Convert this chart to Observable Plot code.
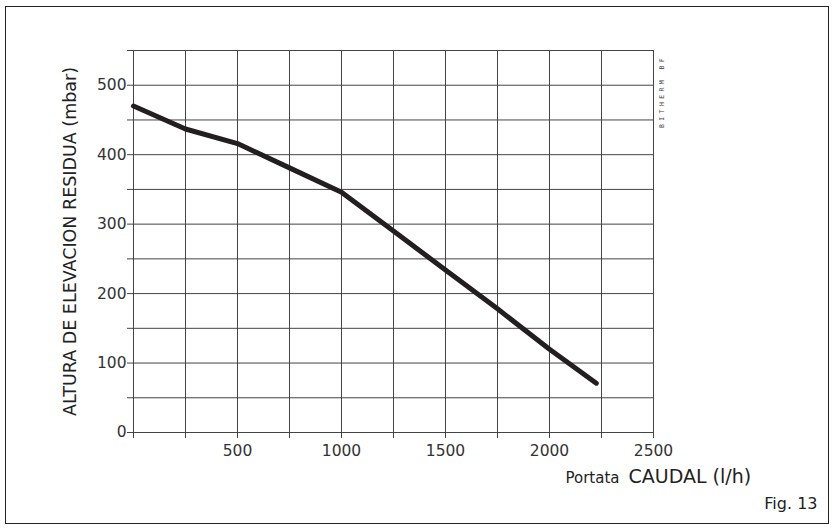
<!DOCTYPE html>
<html>
<head>
<meta charset="utf-8">
<script src="https://cdn.jsdelivr.net/npm/d3@7"></script>
<script src="https://cdn.jsdelivr.net/npm/@observablehq/plot@0.6"></script>
<style>
  html, body { margin: 0; padding: 0; background: #fff; }
  #wrap { position: relative; width: 835px; height: 530px; overflow: hidden; }
  #border { position: absolute; left: 5px; top: 6px; width: 822px; height: 516px; border: 1.5px solid #222; pointer-events: none; }
  svg { display: block; }
</style>
</head>
<body>
<div id="wrap"><div id="border"></div></div>
<script>
// Data
const flow = [0, 250, 500, 750, 1000, 1250, 1500, 1750, 2000, 2225];      // l/h
const pressure = [470, 437, 416, 381, 346, 290, 234, 178, 120, 71];       // mbar

// Axis ticks
const xGridTicks = [0, 250, 500, 750, 1000, 1250, 1500, 1750, 2000, 2250, 2500];
const xLabelTicks = [500, 1000, 1500, 2000, 2500];
const yGridTicks = [0, 50, 100, 150, 200, 250, 300, 350, 400, 450, 500, 550];
const yLabelTicks = [0, 100, 200, 300, 400, 500];

// Texts
const yTitle = "ALTURA DE ELEVACION RESIDUA (mbar)";
const xTitleSmall = "Portata";
const xTitleBig = "CAUDAL (l/h)";
const figLabel = "Fig. 13";
const brand = "BITHERM BF";

const data = flow.map((f, i) => ({flow: f, pressure: pressure[i]}));
const font = "DejaVu Sans";
const ink = "#333";

const chart = Plot.plot({
  width: 835,
  height: 530,
  marginLeft: 133,
  marginRight: 182,
  marginTop: 50,
  marginBottom: 98,
  style: {fontFamily: font, color: ink, background: "white"},
  x: {domain: [0, 2500]},
  y: {domain: [0, 550]},
  marks: [
    Plot.gridX({ticks: xGridTicks, stroke: "#444", strokeOpacity: 1, strokeWidth: 1}),
    Plot.gridY({ticks: yGridTicks, stroke: "#444", strokeOpacity: 1, strokeWidth: 1}),
    Plot.axisX({ticks: xGridTicks, tickSize: 6, tickPadding: 6, fontSize: 15.5, stroke: "#444",
      tickFormat: d => xLabelTicks.includes(d) ? String(d) : "", label: null}),
    Plot.axisY({ticks: yGridTicks, tickSize: 6, tickPadding: 1, fontSize: 15.5, stroke: "#444",
      tickFormat: d => yLabelTicks.includes(d) ? String(d) : "", label: null}),
    Plot.line(data, {x: "flow", y: "pressure", stroke: "#231f20", strokeWidth: 5,
      strokeLinecap: "round", strokeLinejoin: "round"}),
    Plot.text([yTitle], {frameAnchor: "left", rotate: -90, dx: -63, fontSize: 17.5,
      textAnchor: "middle", lineAnchor: "middle", fill: "#222"}),
    Plot.text([xTitleSmall], {frameAnchor: "bottom-right", dx: -34, dy: 50, fontSize: 15,
      textAnchor: "end", lineAnchor: "bottom", fill: "#222"}),
    Plot.text([xTitleBig], {frameAnchor: "bottom-right", dx: -25, dy: 50, fontSize: 19,
      textAnchor: "start", lineAnchor: "bottom", fill: "#222"}),
    Plot.text([figLabel], {frameAnchor: "bottom-right", dx: 164, dy: 76, fontSize: 16,
      textAnchor: "end", lineAnchor: "bottom", fill: "#222"}),
    Plot.text([brand], {frameAnchor: "top-right", dx: 8, dy: 41, fontSize: 6.5, rotate: -90,
      textAnchor: "middle", lineAnchor: "middle", fill: "#444", fontFamily: "DejaVu Sans Mono"})
  ]
});

// letter spacing for the small brand text
d3.select(chart).selectAll("text").filter(function() { return this.textContent === brand; })
  .attr("letter-spacing", "3.4px");

document.getElementById("wrap").prepend(chart);
</script>
</body>
</html>
